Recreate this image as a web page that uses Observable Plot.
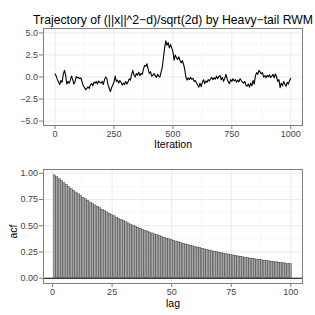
<!DOCTYPE html>
<html><head>
<meta charset="utf-8">
<script src="https://cdn.jsdelivr.net/npm/d3@7"></script>
<script src="https://cdn.jsdelivr.net/npm/@observablehq/plot@0.6"></script>
<style>body{margin:0;background:#fff;} #chart svg{display:block;}</style>
</head><body><div id="chart"></div>
<script>
const titleText = "Trajectory of (||x||^2\u2212d)/sqrt(2d) by Heavy\u2212tail RWM";
const xLabelTop = "Iteration";
const xLabelBottom = "lag";
const yLabelBottom = "acf";
const iterStep = 5;
const trajectory = [
 0.35,0.1,-0.3,-0.55,-0.85,-0.4,-0.6,0.3,0.75,0.2,
 -0.8,-0.5,-0.7,-0.35,0.1,-0.3,-0.8,-0.5,0.05,-0.1,
 -0.05,-0.2,-0.1,-0.6,-1.0,-1.2,-1.45,-1.3,-1.1,-1.3,
 -0.9,-0.75,-1.0,-0.6,-0.7,-0.5,-0.8,-0.45,-0.6,-0.7,
 -0.5,-0.85,-0.3,0.0,-0.2,-0.9,-1.3,-1.65,-1.2,-0.9,
 -0.6,0.1,-0.5,-0.35,-0.7,-0.4,-0.6,-0.9,-0.7,-0.85,
 -0.5,-0.8,-0.55,-0.2,-0.35,0.3,0.75,0.2,0.0,0.4,
 0.2,0.55,0.15,0.4,0.3,0.9,1.3,1.2,1.5,0.9,
 0.4,0.6,0.1,0.2,0.4,0.15,-0.05,0.3,0.1,0.0,
 0.55,1.1,2.2,3.3,4.1,3.6,3.9,3.3,3.7,3.3,
 2.9,1.9,2.5,2.2,2.0,2.3,1.9,1.6,1.85,1.5,
 0.9,0.0,-0.35,-0.1,-0.3,-0.05,-0.25,-0.15,-0.5,-0.4,
 -0.65,-0.9,-1.15,-0.7,-1.1,-0.6,-0.3,-0.75,-0.45,-0.6,
 -0.3,-0.45,-0.2,-0.05,-0.3,-0.1,-0.25,0.1,-0.2,0.05,
 0.15,-0.3,-0.05,-0.5,-0.15,0.3,-0.2,-0.55,-0.75,-0.3,
 -0.5,-0.2,-0.45,-0.3,-0.6,-0.35,-0.55,-0.2,-0.4,-0.6,
 -0.7,-0.5,-0.95,-1.05,-0.8,-1.15,-0.7,-1.0,-0.4,-0.8,
 0.1,0.5,0.3,0.75,0.55,0.35,0.5,0.0,0.15,-0.1,
 0.2,0.0,0.25,-0.05,0.1,0.3,-0.1,0.35,0.0,-0.5,
 -0.3,-1.2,-0.7,-1.0,-0.5,-0.8,-1.05,-0.6,-0.8,-0.4,
 -0.15
];
const acfValues = [
 .980,.962,.943,.924,.905,.887,.869,.851,.834,.817,
 .800,.784,.768,.752,.737,.722,.708,.694,.680,.666,
 .653,.640,.627,.614,.602,.590,.578,.566,.555,.544,
 .533,.522,.512,.502,.492,.482,.472,.463,.454,.445,
 .436,.427,.418,.410,.402,.394,.386,.378,.371,.364,
 .357,.350,.343,.336,.329,.322,.316,.310,.304,.298,
 .292,.286,.280,.275,.270,.264,.259,.254,.249,.244,
 .239,.235,.230,.225,.221,.217,.212,.208,.204,.200,
 .196,.192,.188,.185,.181,.178,.174,.171,.167,.164,
 .161,.158,.155,.152,.149,.146,.143,.140,.137,.134
];
const xTicksTop = [0, 250, 500, 750, 1000];
const xMinorTop = [125, 375, 625, 875];
const yTicksTop = [-5, -2.5, 0, 2.5, 5];
const yMinorTop = [-3.75, -1.25, 1.25, 3.75];
const xTicksBottom = [0, 25, 50, 75, 100];
const xMinorBottom = [12.5, 37.5, 62.5, 87.5];
const yTicksBottom = [0, 0.25, 0.5, 0.75, 1];
const yMinorBottom = [0.125, 0.375, 0.625, 0.875];

const traj = trajectory.map((v, i) => ({iter: i * iterStep, value: v}));
const acf = acfValues.map((v, i) => ({lag: i + 1, acf: v}));

const font = "'Liberation Sans', Arial, Helvetica, sans-serif";
const common = {
  width: 315, marginLeft: 43, marginRight: 13,
  style: {fontFamily: font, fontSize: "9px", color: "#4d4d4d", background: "#fff", overflow: "visible"}
};
const major = "#ebebeb", minor = "#f7f7f7", border = "#7f7f7f";
const tickText = "#444";

const topPlot = Plot.plot({
  ...common, height: 160, marginTop: 28, marginBottom: 35,
  x: {domain: [-48.95, 1049.95]},
  y: {domain: [-5.5, 5.5]},
  marks: [
    Plot.gridX(xMinorTop, {stroke: minor, strokeOpacity: 1}),
    Plot.gridY(yMinorTop, {stroke: minor, strokeOpacity: 1}),
    Plot.gridX(xTicksTop, {stroke: major, strokeOpacity: 1}),
    Plot.gridY(yTicksTop, {stroke: major, strokeOpacity: 1}),
    Plot.line(traj, {x: "iter", y: "value", stroke: "black", strokeWidth: 1.1}),
    Plot.frame({stroke: border}),
    Plot.axisX(xTicksTop, {tickSize: 4, tickPadding: 1, stroke: border, label: null, fill: tickText, tickFormat: d3.format("d")}),
    Plot.axisY(yTicksTop, {tickSize: 4, tickPadding: 1.5, stroke: border, label: null, tickFormat: d3.format(".1f"), fill: tickText}),
    Plot.text([xLabelTop], {frameAnchor: "bottom", lineAnchor: "middle", dy: 19.5, fontSize: 10.5, fill: "black"}),
    Plot.text([titleText], {frameAnchor: "top", lineAnchor: "middle", dy: -8, fontSize: 12.2, fill: "black"})
  ]
});

const bottomPlot = Plot.plot({
  ...common, height: 155, marginTop: 9, marginBottom: 32,
  x: {domain: [-3.8, 104.9]},
  y: {domain: [-0.05, 1.036]},
  marks: [
    Plot.gridX(xMinorBottom, {stroke: minor, strokeOpacity: 1}),
    Plot.gridY(yMinorBottom, {stroke: minor, strokeOpacity: 1}),
    Plot.gridX(xTicksBottom, {stroke: major, strokeOpacity: 1}),
    Plot.gridY(yTicksBottom, {stroke: major, strokeOpacity: 1}),
    Plot.rectY(acf, {x1: d => d.lag - 0.45, x2: d => d.lag + 0.45, y: "acf", fill: "#a6a6a6", stroke: "black", strokeWidth: 0.3}),
    Plot.ruleY([0], {stroke: "black", strokeWidth: 1}),
    Plot.frame({stroke: border}),
    Plot.axisX(xTicksBottom, {tickSize: 4, tickPadding: 1, stroke: border, label: null, fill: tickText}),
    Plot.axisY(yTicksBottom, {tickSize: 4, tickPadding: 1.5, stroke: border, label: null, tickFormat: d3.format(".2f"), fill: tickText}),
    Plot.text([xLabelBottom], {frameAnchor: "bottom", lineAnchor: "middle", dy: 19.7, fontSize: 10.5, fill: "black"}),
    Plot.text([yLabelBottom], {frameAnchor: "left", textAnchor: "middle", lineAnchor: "middle", dx: -30, dy: 5, rotate: -90, fontSize: 10.5, fill: "black"})
  ]
});

document.getElementById("chart").append(topPlot, bottomPlot);
</script>
</body></html>
